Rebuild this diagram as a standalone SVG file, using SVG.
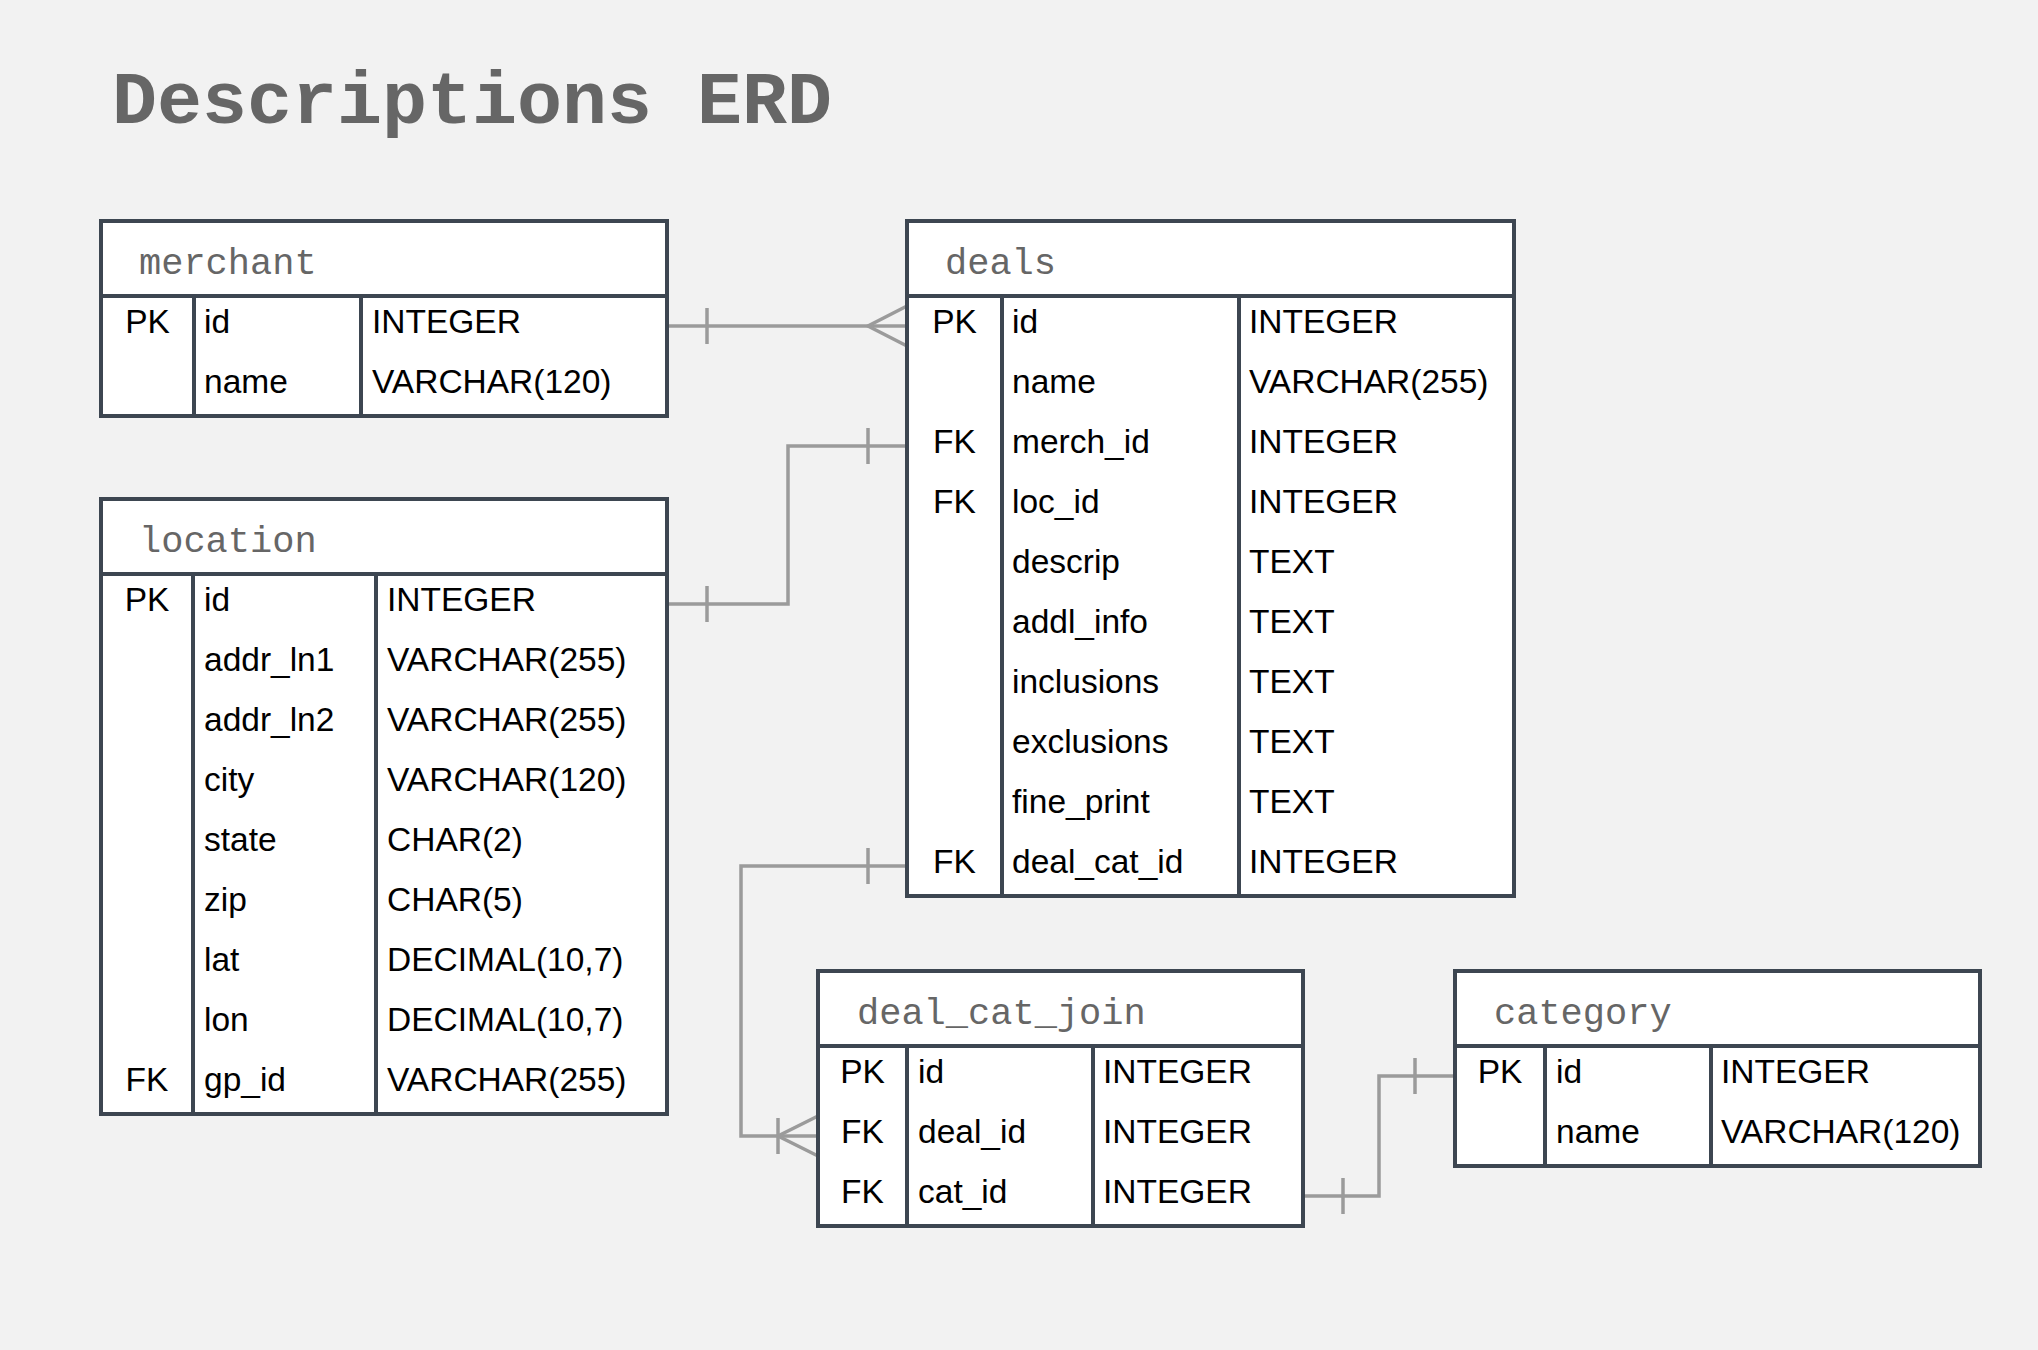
<svg xmlns="http://www.w3.org/2000/svg" width="2038" height="1350" viewBox="0 0 2038 1350">
<style>
.bg{fill:#f2f2f2}
.box{fill:#ffffff;stroke:#3d4651;stroke-width:4}
.ln{stroke:#3d4651;stroke-width:4;fill:none}
.hd{font-family:"Liberation Mono",monospace;font-size:37px;fill:#666666}
.t{font-family:"Liberation Sans",Arial,sans-serif;font-size:33.5px;fill:#000000}
.k{font-family:"Liberation Sans",Arial,sans-serif;font-size:33.5px;fill:#000000;text-anchor:middle}
.title{font-family:"Liberation Mono",monospace;font-size:75px;font-weight:bold;fill:#666666}
.c{stroke:#9b9b9b;stroke-width:3.5;fill:none}
</style>
<rect class="bg" x="0" y="0" width="2038" height="1350"/>
<text class="title" x="112" y="123">Descriptions ERD</text>

<g id="connectors">
  <path class="c" d="M667 326 H907"/>
  <path class="c" d="M707 308 V344"/>
  <path class="c" d="M907 306 L868 326 L907 346"/>

  <path class="c" d="M667 604 H788 V446 H907"/>
  <path class="c" d="M707 586 V622"/>
  <path class="c" d="M868 428 V464"/>

  <path class="c" d="M907 866 H741 V1136 H818"/>
  <path class="c" d="M868 848 V884"/>
  <path class="c" d="M818 1116 L778 1136 L818 1156"/>
  <path class="c" d="M778 1118 V1154"/>

  <path class="c" d="M1303 1196 H1379 V1076 H1455"/>
  <path class="c" d="M1343 1178 V1214"/>
  <path class="c" d="M1415 1058 V1094"/>
</g>

<g id="merchant">
  <rect class="box" x="101" y="221" width="566" height="195"/>
  <path class="ln" d="M101 296 H667 M194 296 V416 M361 296 V416"/>
  <text class="hd" x="139" y="274">merchant</text>
  <text class="k" x="147.5" y="333">PK</text>
  <text class="t" x="204" y="333">id</text>
  <text class="t" x="372" y="333">INTEGER</text>
  <text class="t" x="204" y="393">name</text>
  <text class="t" x="372" y="393">VARCHAR(120)</text>
</g>

<g id="location">
  <rect class="box" x="101" y="499" width="566" height="615"/>
  <path class="ln" d="M101 574 H667 M193 574 V1114 M376 574 V1114"/>
  <text class="hd" x="139" y="552">location</text>
  <text class="k" x="147" y="611">PK</text>
  <text class="t" x="204" y="611">id</text>
  <text class="t" x="387" y="611">INTEGER</text>
  <text class="t" x="204" y="671">addr_ln1</text>
  <text class="t" x="387" y="671">VARCHAR(255)</text>
  <text class="t" x="204" y="731">addr_ln2</text>
  <text class="t" x="387" y="731">VARCHAR(255)</text>
  <text class="t" x="204" y="791">city</text>
  <text class="t" x="387" y="791">VARCHAR(120)</text>
  <text class="t" x="204" y="851">state</text>
  <text class="t" x="387" y="851">CHAR(2)</text>
  <text class="t" x="204" y="911">zip</text>
  <text class="t" x="387" y="911">CHAR(5)</text>
  <text class="t" x="204" y="971">lat</text>
  <text class="t" x="387" y="971">DECIMAL(10,7)</text>
  <text class="t" x="204" y="1031">lon</text>
  <text class="t" x="387" y="1031">DECIMAL(10,7)</text>
  <text class="k" x="147" y="1091">FK</text>
  <text class="t" x="204" y="1091">gp_id</text>
  <text class="t" x="387" y="1091">VARCHAR(255)</text>
</g>

<g id="deals">
  <rect class="box" x="907" y="221" width="607" height="675"/>
  <path class="ln" d="M907 296 H1514 M1002 296 V896 M1239 296 V896"/>
  <text class="hd" x="945" y="274">deals</text>
  <text class="k" x="954.5" y="333">PK</text>
  <text class="t" x="1012" y="333">id</text>
  <text class="t" x="1249" y="333">INTEGER</text>
  <text class="t" x="1012" y="393">name</text>
  <text class="t" x="1249" y="393">VARCHAR(255)</text>
  <text class="k" x="954.5" y="453">FK</text>
  <text class="t" x="1012" y="453">merch_id</text>
  <text class="t" x="1249" y="453">INTEGER</text>
  <text class="k" x="954.5" y="513">FK</text>
  <text class="t" x="1012" y="513">loc_id</text>
  <text class="t" x="1249" y="513">INTEGER</text>
  <text class="t" x="1012" y="573">descrip</text>
  <text class="t" x="1249" y="573">TEXT</text>
  <text class="t" x="1012" y="633">addl_info</text>
  <text class="t" x="1249" y="633">TEXT</text>
  <text class="t" x="1012" y="693">inclusions</text>
  <text class="t" x="1249" y="693">TEXT</text>
  <text class="t" x="1012" y="753">exclusions</text>
  <text class="t" x="1249" y="753">TEXT</text>
  <text class="t" x="1012" y="813">fine_print</text>
  <text class="t" x="1249" y="813">TEXT</text>
  <text class="k" x="954.5" y="873">FK</text>
  <text class="t" x="1012" y="873">deal_cat_id</text>
  <text class="t" x="1249" y="873">INTEGER</text>
</g>

<g id="deal_cat_join">
  <rect class="box" x="818" y="971" width="485" height="255"/>
  <path class="ln" d="M818 1046 H1303 M907 1046 V1226 M1093 1046 V1226"/>
  <text class="hd" x="857" y="1024">deal_cat_join</text>
  <text class="k" x="862.5" y="1083">PK</text>
  <text class="t" x="918" y="1083">id</text>
  <text class="t" x="1103" y="1083">INTEGER</text>
  <text class="k" x="862.5" y="1143">FK</text>
  <text class="t" x="918" y="1143">deal_id</text>
  <text class="t" x="1103" y="1143">INTEGER</text>
  <text class="k" x="862.5" y="1203">FK</text>
  <text class="t" x="918" y="1203">cat_id</text>
  <text class="t" x="1103" y="1203">INTEGER</text>
</g>

<g id="category">
  <rect class="box" x="1455" y="971" width="525" height="195"/>
  <path class="ln" d="M1455 1046 H1980 M1545 1046 V1166 M1711 1046 V1166"/>
  <text class="hd" x="1494" y="1024">category</text>
  <text class="k" x="1500" y="1083">PK</text>
  <text class="t" x="1556" y="1083">id</text>
  <text class="t" x="1721" y="1083">INTEGER</text>
  <text class="t" x="1556" y="1143">name</text>
  <text class="t" x="1721" y="1143">VARCHAR(120)</text>
</g>
</svg>
